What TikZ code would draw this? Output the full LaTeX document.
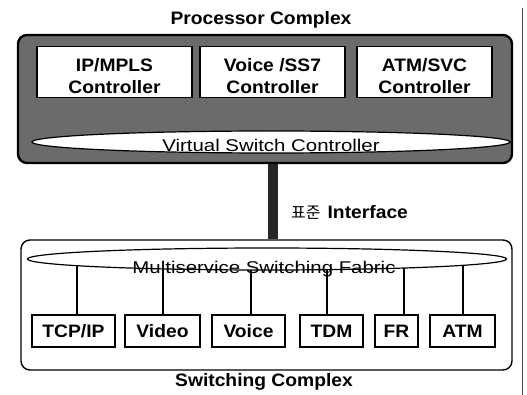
\documentclass[tikz,border=0pt]{standalone}
\usepackage{fontspec}
\setmainfont{Liberation Sans}
\newfontfamily\widefont[FakeStretch=1.2]{Liberation Sans}
\newfontfamily\boldwide[FakeStretch=1.07]{Liberation Sans}
\newfontfamily\krfont{Noto Sans CJK KR}
\usetikzlibrary{shapes.geometric,backgrounds}
\begin{document}
\begin{tikzpicture}[x=1pt,y=-1pt,
  boldlbl/.style={font=\boldwide\bfseries\fontsize{18}{20}\selectfont,inner sep=0pt},
  ctrllbl/.style={font=\boldwide\bfseries\fontsize{18}{21.5}\selectfont,inner sep=0pt,align=center},
  widelbl/.style={font=\widefont\fontsize{17}{19}\selectfont,inner sep=0pt},
  complexbox/.style={draw=black,rounded corners=9pt,inner sep=0pt},
  ctrlbox/.style={draw=black,line width=1.2pt,fill=white,minimum height=51pt,inner sep=0pt},
  svcbox/.style={draw=black,line width=1.2pt,fill=white,minimum height=32pt,inner sep=0pt,
    font=\boldwide\bfseries\fontsize{18}{20}\selectfont},
  bus/.style={ellipse,draw=black,line width=1.2pt,fill=white,inner sep=0pt},
  link/.style={draw=black,line width=2pt},
  bar/.style={draw=black!85,line width=10pt}
]
\useasboundingbox (0,0) rectangle (527,395);

% stray scan edge at the right
\coordinate (edgetop) at (522,8);
\coordinate (edgebot) at (522,395);
\draw[black!70,line width=0.8pt] (edgetop) -- (edgebot);

% titles
\node[boldlbl] (ptitle) at (261,20) {Processor Complex};
\node[boldlbl] (stitle) at (264,382) {Switching Complex};

% processor complex
\node[complexbox,line width=2.4pt,fill=black!58,minimum width=494pt,minimum height=128pt] (pc) at (265,99) {};
\node[ctrlbox,minimum width=155pt] (ipc) at (114.5,72) {};
\node[ctrlbox,minimum width=145pt] (vsc7) at (272.5,72) {};
\node[ctrlbox,minimum width=135pt] (atmc) at (424.5,72) {};
\node[ctrllbl] (ipclbl) at ([yshift=-4pt]ipc.center) {IP/MPLS\\Controller};
\node[ctrllbl] (vsc7lbl) at ([yshift=-4pt]vsc7.center) {Voice /SS7\\Controller};
\node[ctrllbl] (atmclbl) at ([yshift=-4pt]atmc.center) {ATM/SVC\\Controller};
\node[bus,minimum width=478pt,minimum height=22pt] (vsc) at (271,142) {};
\node[widelbl,anchor=base] (vsclbl) at (271,152) {Virtual Switch Controller};

% switching complex
\node[complexbox,line width=1.4pt,minimum width=491pt,minimum height=130pt] (sc) at (266.5,305) {};
\node[bus,minimum width=479pt,minimum height=22pt] (fab) at (267,259) {};
\node[widelbl,anchor=base] (fablbl) at (264,273) {Multiservice Switching Fabric};

\node[svcbox,minimum width=83pt] (tcp) at (73.5,331) {TCP/IP};
\node[svcbox,minimum width=75pt] (video) at (162.5,331) {Video};
\node[svcbox,minimum width=73pt] (voice) at (248.5,331) {Voice};
\node[svcbox,minimum width=63pt] (tdm) at (331.5,331) {TDM};
\node[svcbox,minimum width=43pt] (fr) at (396.5,331) {FR};
\node[svcbox,minimum width=65pt] (atm) at (462.5,331) {ATM};

% interface label
\node[anchor=west,inner sep=0pt] (iflbl) at (291,212)
  {{\krfont\fontsize{16}{18}\selectfont 표준}\hspace{7pt}{\boldwide\bfseries\fontsize{18}{20}\selectfont Interface}};

\coordinate (barx) at (273,0);
\begin{scope}[on background layer]
  \draw[bar] (pc.south -| barx) -- (sc.north -| barx);
  \draw[link] ([xshift=3.5pt]tcp.north) -- ([xshift=3.5pt]tcp.north |- fab.center);
  \draw[link] (video.north) -- (video.north |- fab.center);
  \draw[link] ([xshift=2.5pt]voice.north) -- ([xshift=2.5pt]voice.north |- fab.center);
  \draw[link] ([xshift=-4.5pt]tdm.north) -- ([xshift=-4.5pt]tdm.north |- fab.center);
  \draw[link] ([xshift=7.5pt]fr.north) -- ([xshift=7.5pt]fr.north |- fab.center);
  \draw[link] (atm.north) -- (atm.north |- fab.center);
\end{scope}
\end{tikzpicture}
\end{document}
